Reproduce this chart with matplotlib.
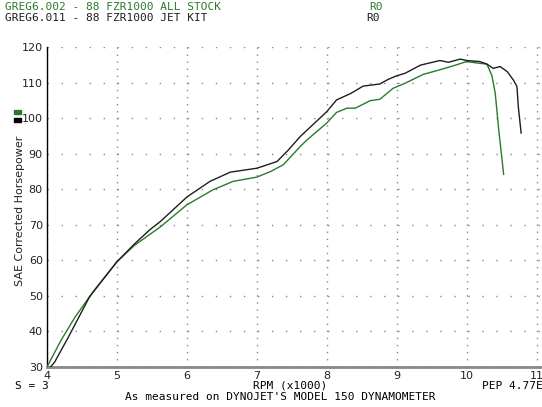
import matplotlib
matplotlib.use("Agg")
import matplotlib.pyplot as plt
from matplotlib.patches import Rectangle

# Dyno runs: RPM (x1000) vs SAE corrected horsepower
rpm_stock = [4.0, 4.2, 4.4, 4.66, 5.0, 5.25, 5.62, 6.0, 6.37, 6.66, 7.0, 7.2,
             7.38, 7.62, 7.72, 8.0, 8.14, 8.29, 8.41, 8.62, 8.76, 8.95, 9.12,
             9.38, 9.6, 9.81, 10.0, 10.19, 10.29, 10.36, 10.41, 10.46, 10.53]
hp_stock = [30, 37.5, 44, 51.2, 59.6, 64.2, 69.4, 75.6, 79.8, 82.2, 83.4, 85,
            86.9, 92, 93.9, 98.6, 101.6, 102.8, 102.8, 104.9, 105.3, 108.4, 109.8,
            112.3, 113.5, 114.7, 115.9, 115.4, 115.2, 112.1, 107.0, 96.7, 84.2]

rpm_jet = [4.05, 4.11, 4.3, 4.61, 5.0, 5.25, 5.47, 5.62, 6.0, 6.33, 6.62, 7.0,
           7.29, 7.45, 7.62, 8.0, 8.14, 8.35, 8.52, 8.76, 8.88, 9.0, 9.12, 9.34,
           9.62, 9.74, 9.91, 10.0, 10.19, 10.29, 10.38, 10.48, 10.58, 10.67,
           10.72, 10.74, 10.78]
hp_jet = [30, 31.4, 38.2, 49.8, 59.6, 64.6, 68.6, 70.9, 77.8, 82.2, 84.8, 85.9,
          87.8, 91, 94.8, 101.8, 105.1, 107, 109, 109.6, 110.9, 111.9, 112.6, 114.9,
          116.2, 115.7, 116.6, 116.2, 115.9, 115.2, 114.0, 114.5, 113.1, 110.7,
          108.9, 103.2, 95.8]

x_ticks = [4, 5, 6, 7, 8, 9, 10, 11]
y_ticks = [30, 40, 50, 60, 70, 80, 90, 100, 110, 120]

green = '#2b7a2b'
dark = '#1e1e1e'
mono = 'DejaVu Sans Mono'

W, H = 542, 407
fig = plt.figure(figsize=(W / 100, H / 100), dpi=100)
ax = fig.add_axes([47 / W, 1 - 367 / H, (540 - 47) / W, 320 / H])

ax.plot(rpm_stock, hp_stock, color=green, lw=1.0, zorder=3)
ax.plot(rpm_jet, hp_jet, color=dark, lw=1.0, zorder=3)

ax.set_xlim(4, 11.05)
ax.set_ylim(30, 120)
ax.set_xticks(x_ticks)
ax.set_yticks(y_ticks)
ax.tick_params(axis='both', length=0, labelsize=8, colors='#222222')
ax.tick_params(axis='x', pad=3)
ax.tick_params(axis='y', pad=3)

# dotted grid like the dyno printout
ax.xaxis.grid(True, color='#888888', lw=1, linestyle=(0, (1, 4.1)))
ax.yaxis.grid(True, color='#888888', lw=1, linestyle=(0, (1, 9.1)))
ax.set_axisbelow(True)

for s in ['top', 'right']:
    ax.spines[s].set_visible(False)
ax.spines['left'].set_color('black')
ax.spines['left'].set_linewidth(1)
ax.spines['bottom'].set_color('#888888')
ax.spines['bottom'].set_linewidth(2)

# header lines
fig.text(5 / W, 1 - 7 / H, 'GREG6.002 - 88 FZR1000 ALL STOCK', color=green,
         family=mono, fontsize=8, va='center')
fig.text(369 / W, 1 - 7 / H, 'R0', color=green, family=mono, fontsize=8, va='center')
fig.text(5 / W, 1 - 18 / H, 'GREG6.011 - 88 FZR1000 JET KIT', color=dark,
         family=mono, fontsize=8, va='center')
fig.text(366 / W, 1 - 18 / H, 'R0', color=dark, family=mono, fontsize=8, va='center')

# y label and small legend swatches
fig.text(20 / W, 1 - 211 / H, 'SAE Corrected Horsepower', rotation=90,
         fontsize=8, ha='center', va='center', color='#222222')
fig.patches.append(Rectangle((14 / W, 1 - 114 / H), 7 / W, 4 / H,
                             transform=fig.transFigure, color=green))
fig.patches.append(Rectangle((14 / W, 1 - 122 / H), 7 / W, 4 / H,
                             transform=fig.transFigure, color='black'))

# footer
fig.text(15 / W, 1 - 386 / H, 'S = 3', family=mono, fontsize=8, va='center')
fig.text(290 / W, 1 - 386 / H, 'RPM (x1000)', family=mono, fontsize=8,
         ha='center', va='center')
fig.text(482 / W, 1 - 386 / H, 'PEP 4.77E', family=mono, fontsize=8, va='center')
fig.text(280 / W, 1 - 397 / H, "As measured on DYNOJET'S MODEL 150 DYNAMOMETER",
         family=mono, fontsize=8, ha='center', va='center')

fig.savefig('out.png', dpi=100, facecolor='white')
